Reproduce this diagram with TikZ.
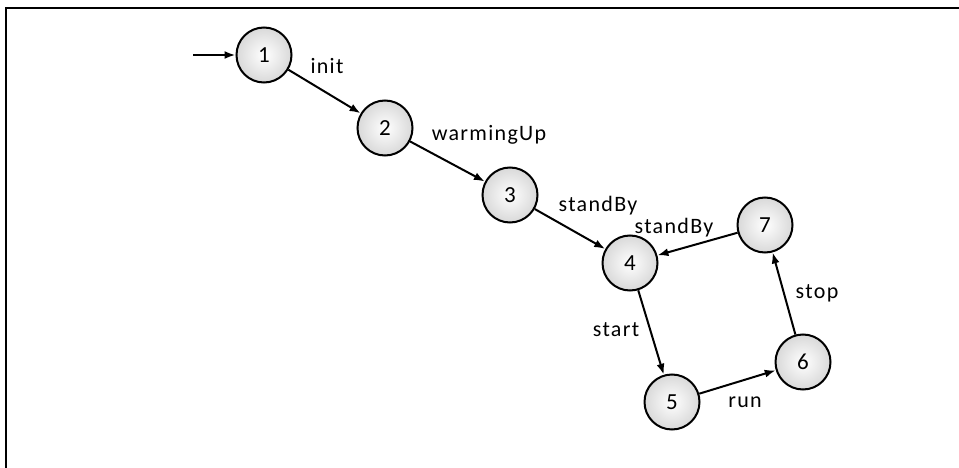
\documentclass[tikz,border=0pt]{standalone}
\usepackage{fontspec}
\setmainfont{Carlito}
\newfontfamily\lblfont[LetterSpace=6]{Carlito}
\usetikzlibrary{arrows.meta}

\tikzset{
    state/.style={circle, draw=black, line width=2pt, minimum size=55pt, inner sep=0pt,
        inner color=white, outer color=gray!30, font=\fontsize{23}{23}\selectfont},
    trans/.style={-{Latex[length=11pt,width=8pt]}, line width=2pt},
    lbl/.style={font=\lblfont\fontsize{22}{22}\selectfont}
}

\begin{document}
\begin{tikzpicture}[x=1pt, y=-1pt]
        \useasboundingbox (0,0) rectangle (959,468);
        \draw[line width=2.5pt] (6,468) -- (6,8) -- (959,8);
        \node[state] (s1) at (264,55) {1};
        \node[state] (s2) at (385,128) {2};
        \node[state] (s3) at (510,195) {3};
        \node[state] (s4) at (630,263) {4};
        \node[state] (s5) at (672,402) {5};
        \node[state] (s6) at (803,362) {6};
        \node[state] (s7) at (765,225) {7};
        \coordinate (start) at (193,55);
        \draw[trans] (start) -- (s1);
        \draw[trans] (s1) -- (s2);
        \draw[trans] (s2) -- (s3);
        \draw[trans] (s3) -- (s4);
        \draw[trans] (s4) -- (s5);
        \draw[trans] (s5) -- (s6);
        \draw[trans] (s6) -- (s7);
        \draw[trans] (s7) -- (s4);
        \node[lbl] (linit) at (327,66) {init};
        \node[lbl] (lwarm) at (489,135) {warmingUp};
        \node[lbl] (lstand1) at (598,206) {standBy};
        \node[lbl] (lstand2) at (674,228) {standBy};
        \node[lbl] (lstart) at (616,330) {start};
        \node[lbl] (lstop) at (817,293) {stop};
        \node[lbl] (lrun) at (745,402) {run};
    \end{tikzpicture}
\end{document}
